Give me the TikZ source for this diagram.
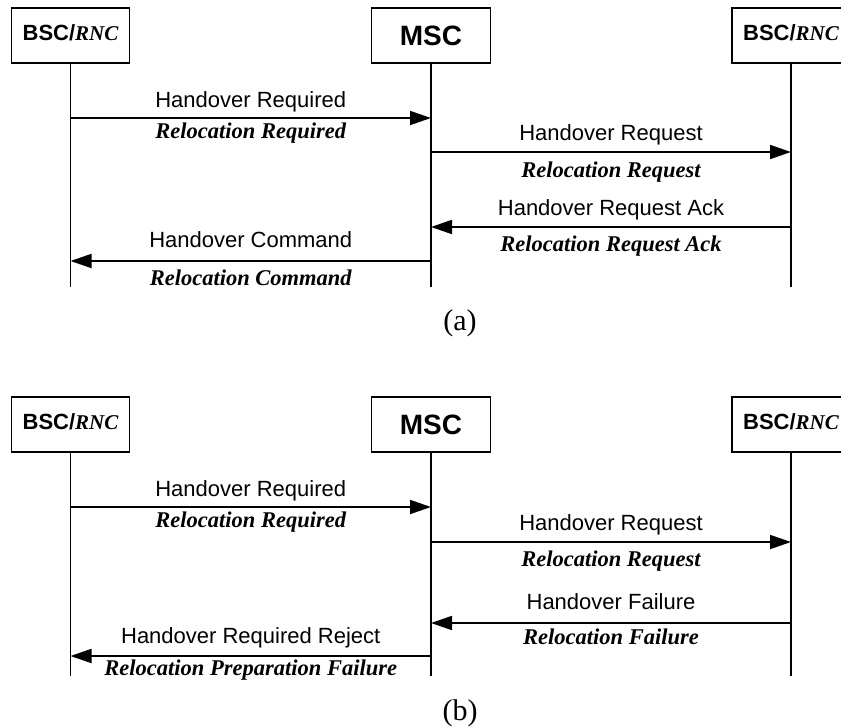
\documentclass[tikz,border=0pt]{standalone}
\usepackage{fontspec}
\setmainfont{Liberation Serif}
\newfontfamily\plainsans{Liberation Sans}
\usetikzlibrary{arrows.meta}

\newcommand\bscrnc{{\plainsans\fontsize{22}{26}\selectfont\bfseries BSC/{\rmfamily\itshape\fontsize{21}{26}\selectfont RNC}}}

\tikzset{
  entity/.style={draw, line width=1.8pt, minimum width=118pt, minimum height=55pt,
                 inner sep=0pt, text height=12pt, text depth=3pt},
  mscbox/.style={entity, minimum width=119pt, text height=20pt, text depth=1pt,
                 font={\plainsans\fontsize{28}{32}\selectfont\bfseries}},
  lifeline/.style={line width=1.8pt},
  msg/.style={line width=1.8pt, -{Triangle[length=21pt,width=14pt]}},
  toptext/.style={anchor=base, inner sep=0pt, font={\plainsans\fontsize{22}{26}\selectfont}},
  bottext/.style={anchor=base, inner sep=0pt, font={\fontsize{22.5}{26}\selectfont\bfseries\itshape}},
  caption/.style={anchor=base, inner sep=0pt, font={\fontsize{30}{34}\selectfont}}
}

\begin{document}
\begin{tikzpicture}[x=1pt, y=-1pt]
\useasboundingbox (0,0) rectangle (841,726);
\clip (0,0) rectangle (841,726);

% ---------- (a) successful relocation ----------
\node[entity] (bscA) at (70.5,35.5) {\bscrnc};
\node[mscbox] (mscA) at (431,35.5) {MSC};
\node[entity] (rncA) at (791,35.5) {\bscrnc};

\coordinate (bscAend) at (bscA.south |- 0,287);
\coordinate (mscAend) at (mscA.south |- 0,287);
\coordinate (rncAend) at (rncA.south |- 0,287);
\draw[lifeline] (bscA.south) -- (bscAend);
\draw[lifeline] (mscA.south) -- (mscAend);
\draw[lifeline] (rncA.south) -- (rncAend);

\draw[msg] (bscA.south |- 0,118) -- (mscA.south |- 0,118);
\node[toptext] (a1t) at (250.75,107) {Handover Required};
\node[bottext] (a1b) at (250.75,138.5) {Relocation Required};

\draw[msg] (mscA.south |- 0,152) -- (rncA.south |- 0,152);
\node[toptext] (a2t) at (611,140.5) {Handover Request};
\node[bottext] (a2b) at (611,177) {Relocation Request};

\draw[msg] (rncA.south |- 0,227) -- (mscA.south |- 0,227);
\node[toptext] (a3t) at (611,215) {Handover Request Ack};
\node[bottext] (a3b) at (611,251) {Relocation Request Ack};

\draw[msg] (mscA.south |- 0,261) -- (bscA.south |- 0,261);
\node[toptext] (a4t) at (250.75,247.5) {Handover Command};
\node[bottext] (a4b) at (250.75,285) {Relocation Command};

\node[caption] (capA) at (460,330) {(a)};

% ---------- (b) relocation failure ----------
\node[entity] (bscB) at (70.5,424.5) {\bscrnc};
\node[mscbox] (mscB) at (431,424.5) {MSC};
\node[entity] (rncB) at (791,424.5) {\bscrnc};

\coordinate (bscBend) at (bscB.south |- 0,676);
\coordinate (mscBend) at (mscB.south |- 0,676);
\coordinate (rncBend) at (rncB.south |- 0,676);
\draw[lifeline] (bscB.south) -- (bscBend);
\draw[lifeline] (mscB.south) -- (mscBend);
\draw[lifeline] (rncB.south) -- (rncBend);

\draw[msg] (bscB.south |- 0,507) -- (mscB.south |- 0,507);
\node[toptext] (b1t) at (250.75,496) {Handover Required};
\node[bottext] (b1b) at (250.75,527.5) {Relocation Required};

\draw[msg] (mscB.south |- 0,542) -- (rncB.south |- 0,542);
\node[toptext] (b2t) at (611,530) {Handover Request};
\node[bottext] (b2b) at (611,566.5) {Relocation Request};

\draw[msg] (rncB.south |- 0,623) -- (mscB.south |- 0,623);
\node[toptext] (b3t) at (611,609) {Handover Failure};
\node[bottext] (b3b) at (611,644) {Relocation Failure};

\draw[msg] (mscB.south |- 0,656) -- (bscB.south |- 0,656);
\node[toptext] (b4t) at (250.75,643) {Handover Required Reject};
\node[bottext] (b4b) at (250.75,675) {Relocation Preparation Failure};

\node[caption] (capB) at (460,720) {(b)};
\end{tikzpicture}
\end{document}
